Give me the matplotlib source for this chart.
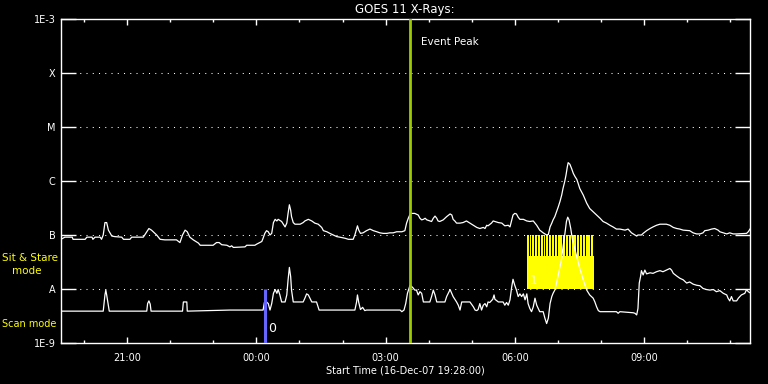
#GOES 11 X-ray flux plot (long and short channel), 16-Dec-07
import numpy as np
import matplotlib
matplotlib.use('Agg')
import matplotlib.pyplot as plt

# hours since start time (19:28) and log10 of flux (W/m^2)
long_t = [0.00, 0.09, 0.26, 0.28, 0.56, 0.60, 0.72, 0.74, 0.79, 0.91, 0.94, 0.98, 1.02, 1.06, 1.10,
          1.18, 1.25, 1.41, 1.45, 1.60, 1.64, 1.91, 1.99, 2.04, 2.10, 2.22, 2.30, 2.41, 2.68, 2.76,
          2.82, 2.88, 2.93, 2.99, 3.07, 3.19, 3.23, 3.53, 3.61, 3.67, 3.73, 3.85, 3.92, 3.96, 4.00,
          4.27, 4.31, 4.50, 4.54, 4.66, 4.69, 4.73, 4.77, 4.81, 4.85, 4.89, 4.93, 4.97, 5.01, 5.04,
          5.12, 5.20, 5.24, 5.27, 5.30, 5.33, 5.35, 5.39, 5.43, 5.55, 5.62, 5.66, 5.74, 5.82, 5.89,
          5.97, 6.05, 6.09, 6.17, 6.24, 6.32, 6.40, 6.47, 6.59, 6.67, 6.78, 6.82, 6.86, 6.88, 6.91,
          6.95, 7.01, 7.09, 7.17, 7.25, 7.33, 7.40, 7.48, 7.56, 7.63, 7.71, 7.79, 7.91, 7.98, 8.02,
          8.06, 8.11, 8.21, 8.29, 8.33, 8.37, 8.41, 8.45, 8.49, 8.56, 8.60, 8.64, 8.68, 8.72, 8.75,
          8.79, 8.87, 8.95, 9.03, 9.07, 9.10, 9.14, 9.18, 9.26, 9.33, 9.41, 9.49, 9.57, 9.65, 9.72,
          9.80, 9.84, 9.88, 9.91, 9.99, 10.03, 10.07, 10.15, 10.23, 10.30, 10.38, 10.42, 10.46, 10.49,
          10.53, 10.57, 10.61, 10.65, 10.73, 10.81, 10.88, 10.96, 11.00, 11.04, 11.07, 11.11, 11.19,
          11.23, 11.27, 11.31, 11.35, 11.39, 11.42, 11.46, 11.50, 11.54, 11.58, 11.62, 11.65, 11.69,
          11.72, 11.75, 11.77, 11.81, 11.85, 11.89, 11.93, 11.97, 12.00, 12.04, 12.12, 12.20, 12.27,
          12.35, 12.43, 12.51, 12.58, 12.66, 12.74, 12.81, 12.89, 12.97, 13.09, 13.16, 13.24, 13.28,
          13.36, 13.39, 13.47, 13.51, 13.59, 13.67, 13.74, 13.82, 13.90, 14.05, 14.13, 14.21, 14.29,
          14.36, 14.44, 14.59, 14.67, 14.75, 14.83, 14.90, 14.94, 15.02, 15.10, 15.17, 15.25, 15.29,
          15.37, 15.45, 15.52, 15.60, 15.68, 15.91, 15.95, 15.99]
long_logf = [-7.08, -7.04, -7.04, -7.08, -7.08, -7.04, -7.04, -7.08, -7.04, -7.04, -7.08, -7.00, -6.77, -6.77, -6.91,
             -7.02, -7.03, -7.04, -7.08, -7.08, -7.04, -7.04, -6.94, -6.88, -6.91, -7.00, -7.08, -7.09, -7.09, -7.14,
             -7.00, -6.91, -6.94, -7.04, -7.09, -7.15, -7.19, -7.19, -7.14, -7.14, -7.18, -7.19, -7.22, -7.20, -7.23,
             -7.22, -7.19, -7.19, -7.17, -7.12, -7.06, -6.97, -6.92, -6.94, -7.00, -6.97, -6.77, -6.71, -6.74, -6.71,
             -6.75, -6.85, -6.78, -6.60, -6.44, -6.54, -6.66, -6.77, -6.80, -6.80, -6.77, -6.74, -6.71, -6.74, -6.78,
             -6.80, -6.86, -6.92, -6.94, -6.97, -7.00, -7.03, -7.04, -7.06, -7.08, -7.08, -7.00, -6.89, -6.83, -6.91,
             -6.97, -6.96, -6.92, -6.89, -6.92, -6.94, -6.96, -6.97, -6.97, -6.96, -6.96, -6.94, -6.94, -6.92, -6.78,
             -6.69, -6.60, -6.60, -6.63, -6.69, -6.72, -6.71, -6.69, -6.72, -6.74, -6.75, -6.69, -6.65, -6.69, -6.74,
             -6.75, -6.72, -6.66, -6.61, -6.63, -6.71, -6.74, -6.78, -6.78, -6.77, -6.74, -6.78, -6.82, -6.86, -6.88,
             -6.86, -6.88, -6.82, -6.83, -6.78, -6.74, -6.75, -6.77, -6.78, -6.83, -6.82, -6.85, -6.72, -6.63,
             -6.60, -6.61, -6.67, -6.71, -6.71, -6.74, -6.75, -6.74, -6.78, -6.82, -6.86, -6.91, -6.96,
             -6.98, -7.00, -6.99, -6.85, -6.78, -6.72, -6.66, -6.57, -6.48, -6.38, -6.26, -6.14, -6.01,
             -5.89, -5.74, -5.66, -5.69, -5.77, -5.86, -5.92, -5.97, -6.04, -6.14, -6.26, -6.41, -6.51,
             -6.57, -6.63, -6.69, -6.75, -6.78, -6.82, -6.85, -6.89, -6.89, -6.91, -6.89, -6.96, -6.98,
             -7.02, -7.00, -7.00, -6.97, -6.92, -6.88, -6.85, -6.82, -6.80, -6.80, -6.82, -6.86, -6.88,
             -6.89, -6.91, -6.92, -6.96, -6.98, -6.98, -6.96, -6.92, -6.91, -6.89, -6.88, -6.91, -6.94,
             -6.96, -6.98, -6.96, -6.98, -6.98, -6.97, -6.94, -6.89]

short_t = [0.00, 0.98, 1.02, 1.04, 1.06, 1.12, 1.99, 2.01, 2.04, 2.07, 2.09, 2.82, 2.84, 2.92, 2.93,
           3.92, 4.69, 4.72, 4.77, 4.81, 4.85, 4.89, 4.93, 4.97, 5.01, 5.04, 5.08, 5.12, 5.20, 5.24,
           5.27, 5.30, 5.33, 5.35, 5.39, 5.62, 5.66, 5.70, 5.74, 5.82, 5.93, 5.99, 6.82, 6.86, 6.88,
           6.91, 6.95, 7.00, 7.05, 7.09, 7.87, 7.91, 7.96, 8.00, 8.04, 8.10, 8.16, 8.21, 8.25, 8.29,
           8.33, 8.37, 8.41, 8.56, 8.60, 8.64, 8.68, 8.72, 8.91, 8.95, 9.03, 9.10, 9.18, 9.22, 9.26,
           9.30, 9.49, 9.57, 9.61, 9.65, 9.68, 9.72, 9.76, 9.80, 9.84, 9.88, 9.91, 9.95, 10.02, 10.05,
           10.07, 10.15, 10.26, 10.30, 10.34, 10.38, 10.42, 10.46, 10.49, 10.53, 10.57, 10.61, 10.65,
           10.69, 10.73, 10.77, 10.81, 10.84, 10.88, 10.92, 10.96, 11.00, 11.04, 11.11, 11.19, 11.23,
           11.27, 11.31, 11.35, 11.39, 11.42, 11.46, 11.50, 11.54, 11.58, 11.62, 11.65, 11.69, 11.73,
           11.76, 11.79, 11.83, 11.87, 11.93, 11.97, 12.04, 12.12, 12.20, 12.27, 12.35, 12.39, 12.43,
           12.47, 12.51, 12.89, 12.93, 12.97, 13.28, 13.32, 13.36, 13.39, 13.42, 13.45, 13.47, 13.51,
           13.55, 13.59, 13.67, 13.74, 13.82, 13.90, 13.97, 14.05, 14.13, 14.17, 14.21, 14.29, 14.36,
           14.44, 14.52, 14.59, 14.67, 14.75, 14.83, 14.90, 14.98, 15.06, 15.14, 15.21, 15.29, 15.37,
           15.45, 15.48, 15.52, 15.56, 15.60, 15.68, 15.72, 15.79, 15.87, 15.91, 15.95, 15.99]
short_logf = [-8.41, -8.41, -8.11, -8.02, -8.11, -8.41, -8.41, -8.27, -8.22, -8.28, -8.41, -8.41, -8.24, -8.24, -8.41,
              -8.39, -8.39, -8.25, -8.24, -8.27, -8.39, -8.27, -8.08, -8.01, -8.08, -8.01, -8.11, -8.24, -8.24, -8.11,
              -7.83, -7.60, -7.77, -8.02, -8.24, -8.24, -8.17, -8.09, -8.11, -8.24, -8.24, -8.39, -8.39, -8.24, -8.11,
              -8.25, -8.38, -8.34, -8.40, -8.39, -8.39, -8.42, -8.39, -8.27, -8.08, -7.93, -7.97, -8.02, -8.02, -8.11,
              -8.05, -8.08, -8.24, -8.24, -8.14, -8.02, -8.11, -8.24, -8.24, -8.14, -8.01, -8.14, -8.24, -8.30, -8.39,
              -8.24, -8.24, -8.33, -8.39, -8.40, -8.38, -8.27, -8.39, -8.30, -8.27, -8.33, -8.24, -8.25, -8.19, -8.11,
              -8.19, -8.24, -8.24, -8.30, -8.25, -8.30, -8.20, -7.96, -7.82, -7.93, -8.02, -8.14, -8.09,
              -8.14, -8.09, -8.20, -8.09, -8.27, -8.36, -8.42, -8.33, -8.17, -8.30, -8.42, -8.42, -8.54,
              -8.64, -8.54, -8.27, -8.14, -8.08, -8.02, -7.89, -7.74, -7.59, -7.43, -7.22, -7.00, -6.75,
              -6.67, -6.72, -6.88, -7.09, -7.28, -7.40, -7.62, -7.83, -8.02, -8.11, -8.17, -8.24, -8.33,
              -8.40, -8.42, -8.42, -8.45, -8.42, -8.44, -8.45, -8.48, -8.36, -7.89, -7.77, -7.66, -7.74,
              -7.65, -7.72, -7.70, -7.71, -7.68, -7.66, -7.68, -7.65, -7.62, -7.65, -7.71, -7.76, -7.80,
              -7.83, -7.89, -7.87, -7.91, -7.93, -7.94, -7.99, -8.01, -8.02, -8.01, -8.05, -8.03, -8.08,
              -8.11, -8.17, -8.22, -8.14, -8.22, -8.22, -8.17, -8.11, -8.08, -8.01, -8.05, -8.07]

level_names = ['1E-9', 'A', 'B', 'C', 'M', 'X', '1E-3']
level_flux = [1e-9, 1e-8, 1e-7, 1e-6, 1e-5, 1e-4, 1e-3]
major_hours = [1.533, 4.533, 7.533, 10.533, 13.533]
major_labels = ['21:00', '00:00', '03:00', '06:00', '09:00']
minor_hours = [0.533 + k for k in range(16)]

event_peak = 8.10      # 03:34
scan_mark = 4.73       # 00:12
sitstare_start = 10.81
sitstare_end = 12.37
sitstare_stripe = 4.1e-8

bg = 'black'
fg = 'white'
yel = '#ffff00'

fig = plt.figure(figsize=(7.68, 3.84), dpi=100, facecolor=bg)
ax = fig.add_axes([61/768, 1-343/384, 689/768, 324/384], facecolor=bg)
ax.set_yscale('log')
ax.set_xlim(0, 15.99)
ax.set_ylim(1e-9, 1e-3)

# sit & stare block: solid lower part, comb of yellow bars on top
ax.fill_between([sitstare_start, sitstare_end], 1e-8, sitstare_stripe, color=yel, lw=0, zorder=1)
stripes = np.arange(sitstare_start, sitstare_end - 0.02, 0.065)
ax.bar(stripes, 1e-7 - sitstare_stripe, bottom=sitstare_stripe, width=0.044, align='edge',
       color=yel, lw=0, zorder=1)
ax.text(sitstare_start + 0.06, 10**-7.85, '1', color=fg, fontsize=8.5, va='center', zorder=2)

# dotted flare levels
for f in level_flux[1:-1]:
    ax.axhline(f, color=fg, lw=0.75, ls=(0, (1, 5)), zorder=1)

ax.plot(long_t, 10**np.array(long_logf), color=fg, lw=0.9, zorder=3)
ax.plot(short_t, 10**np.array(short_logf), color=fg, lw=0.9, zorder=3)

ax.axvline(event_peak, color='#9ccc00', lw=2, zorder=4)
ax.text(event_peak + 0.25, 10**-3.43, 'Event Peak', color=fg, fontsize=7.5, va='center')
ax.vlines(scan_mark, 1e-9, 1e-8, colors='#6666ff', lw=2.2, zorder=4)
ax.text(scan_mark + 0.07, 10**-8.74, '0', color=fg, fontsize=9, va='center', zorder=5)

for s in ax.spines.values():
    s.set_color(fg)
    s.set_linewidth(1)

ax.set_yticks(level_flux)
ax.set_yticklabels(level_names)
ax.yaxis.set_minor_locator(matplotlib.ticker.NullLocator())
ax.tick_params(axis='y', which='major', direction='in', length=10.5, width=1,
               color=fg, labelcolor=fg, labelsize=7, left=True, right=True, pad=4)
ax.set_xticks(major_hours)
ax.set_xticklabels(major_labels)
ax.set_xticks(minor_hours, minor=True)
ax.tick_params(axis='x', which='major', direction='in', length=4.5, width=1,
               color=fg, labelcolor=fg, labelsize=7, top=True, bottom=True, pad=7)
ax.tick_params(axis='x', which='minor', direction='in', length=2.3, width=1,
               color=fg, top=True, bottom=True)
ax.set_xlabel('Start Time (16-Dec-07 19:28:00)', color=fg, fontsize=7, labelpad=2)

fig.text(405/768, 1-10/384, 'GOES 11 X-Rays:', color=fg, fontsize=8.5, ha='center', va='center')
fig.text(2/768, 1-258/384, 'Sit & Stare', color=yel, fontsize=7.5, ha='left', va='center')
fig.text(12/768, 1-271/384, 'mode', color=yel, fontsize=7.5, ha='left', va='center')
fig.text(2/768, 1-324/384, 'Scan mode', color=yel, fontsize=7, ha='left', va='center')

fig.savefig('out.png', dpi=100, facecolor=bg)
